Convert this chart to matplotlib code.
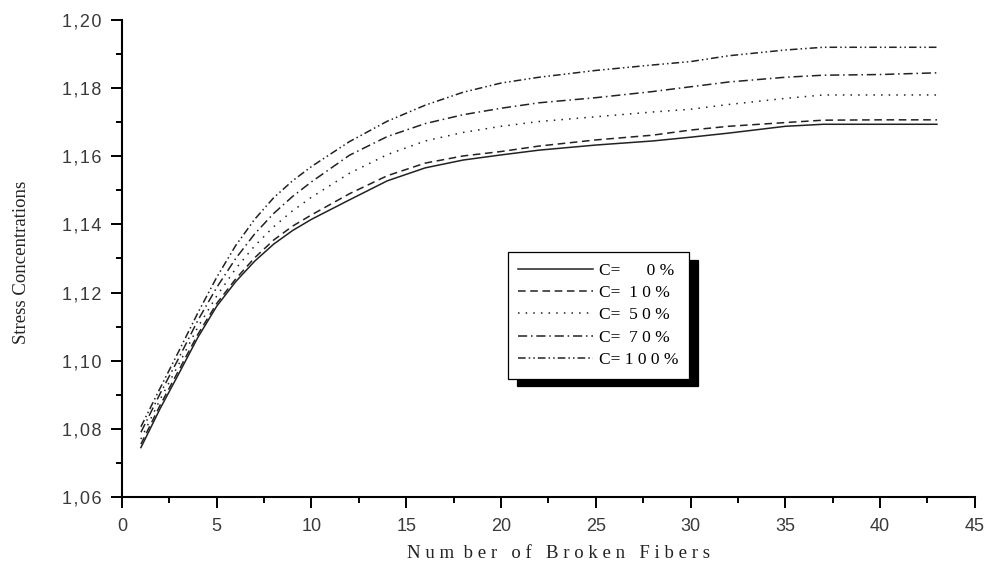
import matplotlib
matplotlib.use("Agg")
import matplotlib.pyplot as plt
from matplotlib.ticker import MultipleLocator, FuncFormatter

# fiber counts and stress concentration curves
x = [1, 2, 3, 4, 5, 6, 7, 8, 9, 10, 12, 14, 16, 18, 20, 22, 25, 28, 30, 32, 35, 37, 40, 43]
c0 = [1.0745, 1.0858, 1.0962, 1.1068, 1.1160, 1.1232, 1.1292, 1.1342, 1.1382, 1.1415, 1.1472, 1.1528,
      1.1566, 1.1589, 1.1604, 1.1618, 1.1633, 1.1645, 1.1656, 1.1668, 1.1688, 1.1694, 1.1694, 1.1694]
c10 = [1.0755, 1.0868, 1.0972, 1.1077, 1.1168, 1.1240, 1.1302, 1.1354, 1.1395, 1.1428, 1.1490, 1.1543,
       1.1580, 1.1601, 1.1614, 1.1630, 1.1648, 1.1662, 1.1677, 1.1688, 1.1699, 1.1706, 1.1707, 1.1707]
c50 = [1.0770, 1.0885, 1.0990, 1.1098, 1.1190, 1.1270, 1.1337, 1.1393, 1.1440, 1.1480, 1.1550, 1.1605,
       1.1645, 1.1670, 1.1688, 1.1702, 1.1716, 1.1730, 1.1738, 1.1752, 1.1770, 1.1780, 1.1780, 1.1780]
c70 = [1.0790, 1.0902, 1.1008, 1.1118, 1.1215, 1.1300, 1.1372, 1.1432, 1.1482, 1.1525, 1.1603, 1.1658,
       1.1696, 1.1722, 1.1741, 1.1757, 1.1772, 1.1790, 1.1804, 1.1818, 1.1832, 1.1838, 1.1840, 1.1845]
c100 = [1.0806, 1.0918, 1.1028, 1.1140, 1.1245, 1.1338, 1.1415, 1.1478, 1.1528, 1.1570, 1.1643, 1.1703,
        1.1750, 1.1788, 1.1815, 1.1832, 1.1852, 1.1868, 1.1878, 1.1895, 1.1912, 1.1920, 1.1920, 1.1920]
labels = ["C=      0 %", "C=  1 0 %", "C=  5 0 %", "C=  7 0 %", "C= 1 0 0 %"]

styles = ["-", (0, (5, 3)), (0, (1, 4)), (0, (6, 2.5, 1, 2.5)), (0, (5, 2, 1, 2, 1, 2))]

fig = plt.figure(figsize=(9.86, 5.67), dpi=100)
ax = fig.add_axes([0.1237, 0.1235, 0.865, 0.8412])

for ys, ls, lab in zip([c0, c10, c50, c70, c100], styles, labels):
    ax.plot(x, ys, color="#222222", linestyle=ls, linewidth=1.1, label=lab)

ax.set_xlim(0, 45)
ax.set_ylim(1.06, 1.20)
ax.spines["top"].set_visible(False)
ax.spines["right"].set_visible(False)
ax.spines["left"].set_linewidth(1.5)
ax.spines["bottom"].set_linewidth(1.5)

ax.xaxis.set_major_locator(MultipleLocator(5))
ax.xaxis.set_minor_locator(MultipleLocator(2.5))
ax.yaxis.set_major_locator(MultipleLocator(0.02))
ax.yaxis.set_minor_locator(MultipleLocator(0.01))
ax.yaxis.set_major_formatter(FuncFormatter(lambda v, p: "\u200a".join(f"{v:.2f}".replace(".", ","))))
ax.tick_params(which="major", length=8, width=1.4, direction="out", pad=7)
ax.tick_params(which="minor", length=4.5, width=1.4, direction="out")
for t in ax.get_xticklabels() + ax.get_yticklabels():
    t.set_fontfamily("Liberation Sans")
    t.set_fontsize(13)
    t.set_color("#3a3a3a")

ax.set_xlabel("N u m  b e r   o f   B r o k e n   F i b e r s", family="Liberation Serif",
              fontsize=13.5, color="#222222")
ax.set_ylabel("Stress Concentrations", family="Liberation Serif", fontsize=13.5,
              color="#222222")
ax.xaxis.set_label_coords(0.5 * (410 + 708) / 853 - 122 / 853, -0.100)
ax.yaxis.set_label_coords(-0.108, 0.5 * (497 - 182 + 497 - 342) / 477)

leg = ax.legend(loc="upper left", bbox_to_anchor=(0.4525, 0.5136), borderaxespad=0,
                prop={"family": "Liberation Serif", "size": 12.5}, handlelength=4.3,
                labelspacing=0.36, fancybox=False, edgecolor="black", framealpha=1,
                borderpad=0.6, handletextpad=0.35,
                shadow={"ox": 6.5, "oy": -5.5, "color": "black", "alpha": 1})
leg.get_frame().set_linewidth(0.9)

fig.savefig("out.png", dpi=100)
